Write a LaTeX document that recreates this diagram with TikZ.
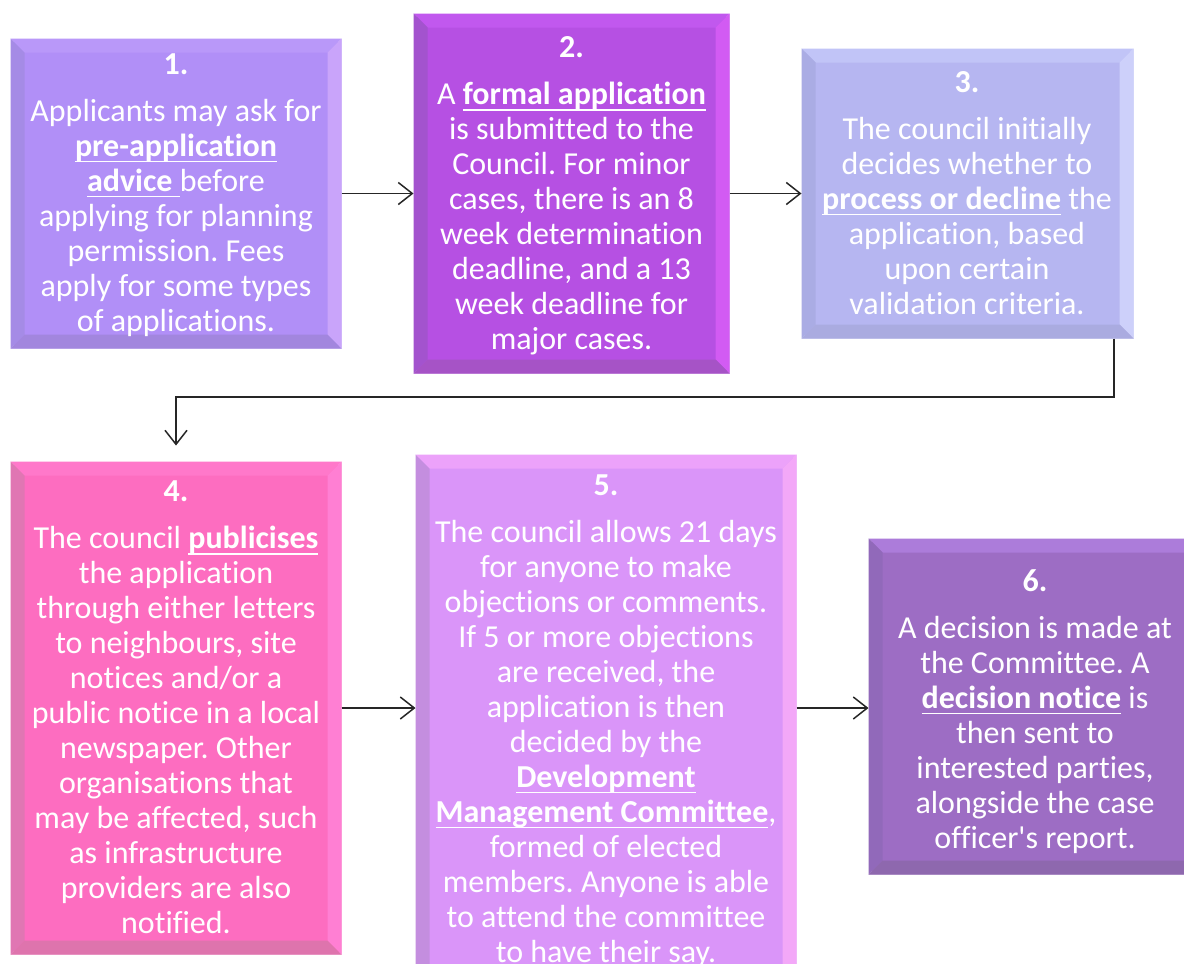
\documentclass[tikz,border=0pt]{standalone}
\usepackage{fontspec}
\setmainfont{Carlito}[Ligatures={NoCommon}]
\usetikzlibrary{arrows.meta,fit}
\frenchspacing
\newsavebox\ubfbox
\newcommand\ubf[1]{\sbox\ubfbox{\textbf{#1}}\rlap{\rule[-3pt]{\wd\ubfbox}{0.9pt}}\usebox\ubfbox}
% colours: M main, T top, L left, R right, B bottom, G glow
\definecolor{oneM}{HTML}{B18FF7}\definecolor{oneT}{HTML}{B998F9}\definecolor{oneL}{HTML}{A58BE6}\definecolor{oneR}{HTML}{C9A4FA}\definecolor{oneB}{HTML}{A286DE}\definecolor{oneG}{HTML}{DCD0FA}
\definecolor{twoM}{HTML}{B650E3}\definecolor{twoT}{HTML}{C158EE}\definecolor{twoL}{HTML}{A353CE}\definecolor{twoR}{HTML}{D25BF3}\definecolor{twoB}{HTML}{A653C6}\definecolor{twoG}{HTML}{E2BDF2}
\definecolor{thrM}{HTML}{B6B6F1}\definecolor{thrT}{HTML}{C1C4F7}\definecolor{thrL}{HTML}{AAACE4}\definecolor{thrR}{HTML}{CDD0FA}\definecolor{thrB}{HTML}{AAABE0}\definecolor{thrG}{HTML}{DEDFF8}
\definecolor{fouM}{HTML}{FD6DC0}\definecolor{fouT}{HTML}{FF78CA}\definecolor{fouL}{HTML}{E076B3}\definecolor{fouR}{HTML}{FF7FD3}\definecolor{fouB}{HTML}{DE74AD}\definecolor{fouG}{HTML}{F9C9E4}
\definecolor{fivM}{HTML}{DA95F9}\definecolor{fivT}{HTML}{ECA2FA}\definecolor{fivL}{HTML}{C48EDF}\definecolor{fivR}{HTML}{F3A8F8}\definecolor{fivB}{HTML}{CC92E4}\definecolor{fivG}{HTML}{EDD5F8}
\definecolor{sixM}{HTML}{9D6DC4}\definecolor{sixT}{HTML}{AC7CDA}\definecolor{sixL}{HTML}{9169BA}\definecolor{sixR}{HTML}{A878D2}\definecolor{sixB}{HTML}{8E68AE}\definecolor{sixG}{HTML}{D9C8EA}
\tikzset{
  x=0.5pt, y=-0.5pt,
  boxbase/.style={inner sep=0pt, line width=1.5pt},
  txt/.style={text=white, align=center, inner sep=0pt,
    font=\fontsize{16}{17.5}\selectfont},
  conn/.style={draw=black!85, line width=0.75pt,
    -{Straight Barb[length=7pt,width=11pt]}},
}
\newcommand\bevelbox[6]{%
  \node[boxbase, fit={(#2,#3) (#4,#5)}, fill=#6M, draw=#6G] (#1) {};
  \fill[#6T] (#1.north west) -- (#1.north east) -- ([shift={(-14,14)}]#1.north east) -- ([shift={(14,14)}]#1.north west) -- cycle;
  \fill[#6L] (#1.north west) -- ([shift={(14,14)}]#1.north west) -- ([shift={(14,-14)}]#1.south west) -- (#1.south west) -- cycle;
  \fill[#6R] (#1.north east) -- ([shift={(-14,14)}]#1.north east) -- ([shift={(-14,-14)}]#1.south east) -- (#1.south east) -- cycle;
  \fill[#6B] (#1.south west) -- ([shift={(14,-14)}]#1.south west) -- ([shift={(-14,-14)}]#1.south east) -- (#1.south east) -- cycle;
}
\begin{document}
\begin{tikzpicture}
\path[use as bounding box] (0,0) rectangle (1184,964);
\fill[white] (0,0) rectangle (1184,964);
\clip (0,0) rectangle (1184,964);

\bevelbox{b1}{12}{40}{340}{347}{one}
\bevelbox{b2}{415}{15}{728}{372}{two}
\bevelbox{b3}{803}{50}{1132}{337}{thr}
\bevelbox{b4}{12}{463}{340}{953}{fou}
\bevelbox{b5}{417}{456}{795}{990}{fiv}
\bevelbox{b6}{870}{540}{1200}{873}{six}

\node[txt] (t1) at (176,195) {\textbf{1.}\\[6pt]
Applicants may ask for\\
\ubf{pre-application}\\
\ubf{advice }before\\
applying for planning\\
permission. Fees\\
apply for some types\\
of applications.};

\node[txt] (t2) at (571.5,196) {\textbf{2.}\\[6pt]
A \ubf{formal application}\\
is submitted to the\\
Council. For minor\\
cases, there is an 8\\
week determination\\
deadline, and a 13\\
week deadline for\\
major cases.};

\node[txt] (t3) at (967,193) {\textbf{3.}\\[6pt]
The council initially\\
decides whether to\\
\ubf{process or decline} the\\
application, based\\
upon certain\\
validation criteria.};

\node[txt] (t4) at (176,707.5) {\textbf{4.}\\[6pt]
The council \ubf{publicises}\\
the application\\
through either letters\\
to neighbours, site\\
notices and/or a\\
public notice in a local\\
newspaper. Other\\
organisations that\\
may be affected, such\\
as infrastructure\\
providers are also\\
notified.};

\node[txt] (t5) at (606,721) {\textbf{5.}\\[6pt]
The council allows 21 days\\
for anyone to make\\
objections or comments.\\
If 5 or more objections\\
are received, the\\
application is then\\
decided by the\\
\ubf{Development}\\
\ubf{Management Committee},\\
formed of elected\\
members. Anyone is able\\
to attend the committee\\
to have their say.};

\node[txt] (t6) at (1035,711.5) {\textbf{6.}\\[6pt]
A decision is made at\\
the Committee. A\\
\ubf{decision notice} is\\
then sent to\\
interested parties,\\
alongside the case\\
officer\textquotesingle s report.};

\coordinate (k1) at (1114,397);
\coordinate (k2) at (176,397);
\draw[conn] (b1.east) -- (b2.west);
\draw[conn] (b2.east) -- (b3.west);
\draw[conn, shorten >=8pt] (b3.south -| k1) -- (k1) -- (k2) -- (b4.north);
\draw[conn] (b4.east) -- (b4.east -| b5.west);
\draw[conn] (b5.east |- b4.east) -- (b6.west |- b4.east);
\end{tikzpicture}
\end{document}
